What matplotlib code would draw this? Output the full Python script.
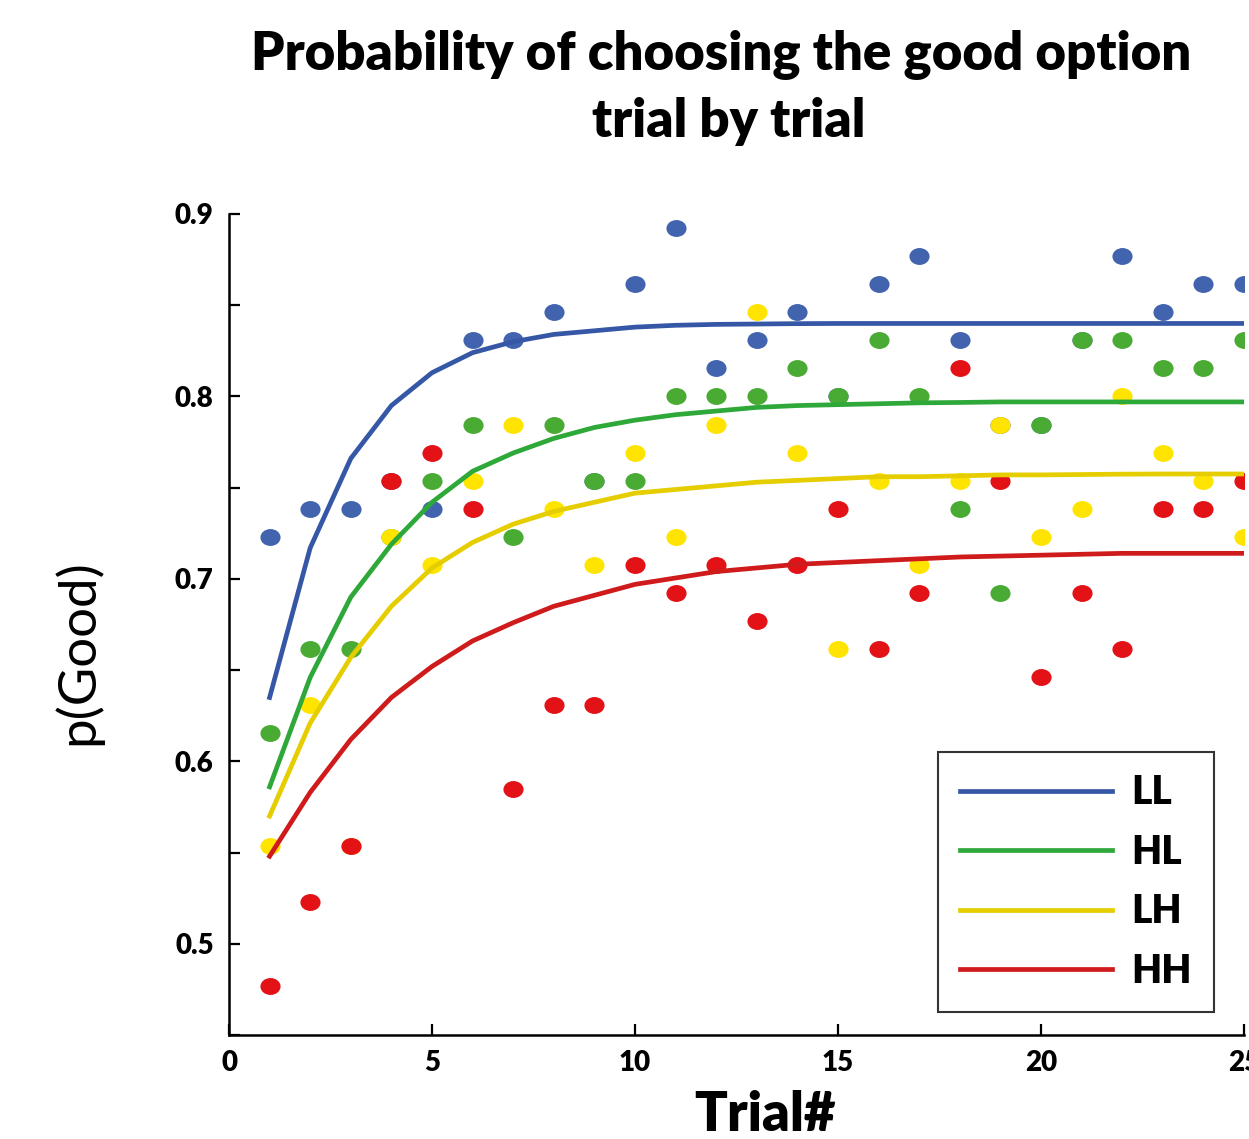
import numpy as np
import matplotlib
matplotlib.use("Agg")
import matplotlib.pyplot as plt
from matplotlib.path import Path
from matplotlib.transforms import Affine2D
from matplotlib.ticker import MultipleLocator

# trial numbers
trials = list(range(1, 26))

# observed proportions (points sit on a k/65 grid)
ll_obs = [47, 48, 48, 49, 48, 54, 54, 55, 49, 56, 58, 53, 54, 55, 52, 56, 57, 54, 51, 51, 54, 57, 55, 56, 56]
hl_obs = [40, 43, 43, 47, 49, 51, 47, 51, 49, 49, 52, 52, 52, 53, 52, 54, 52, 48, 45, 51, 54, 54, 53, 53, 54]
lh_obs = [36, 41, 36, 47, 46, 49, 51, 48, 46, 50, 47, 51, 55, 50, 43, 49, 46, 49, 51, 47, 48, 52, 50, 49, 47]
hh_obs = [31, 34, 36, 49, 50, 48, 38, 41, 41, 46, 45, 46, 44, 46, 48, 43, 45, 53, 49, 42, 45, 43, 48, 48, 49]

# fitted curves
ll_fit = [0.635, 0.717, 0.766, 0.795, 0.813, 0.824, 0.830, 0.834, 0.836, 0.838, 0.839, 0.8395, 0.8397,
          0.8399, 0.840, 0.840, 0.840, 0.840, 0.840, 0.840, 0.840, 0.840, 0.840, 0.840, 0.840]
hl_fit = [0.586, 0.646, 0.690, 0.719, 0.742, 0.759, 0.769, 0.777, 0.783, 0.787, 0.790, 0.792, 0.794,
          0.795, 0.7955, 0.796, 0.7965, 0.7967, 0.797, 0.797, 0.797, 0.797, 0.797, 0.797, 0.797]
lh_fit = [0.570, 0.621, 0.657, 0.685, 0.706, 0.720, 0.730, 0.737, 0.742, 0.747, 0.749, 0.751, 0.753,
          0.754, 0.755, 0.756, 0.756, 0.7565, 0.757, 0.757, 0.7572, 0.7574, 0.7575, 0.7575, 0.7575]
hh_fit = [0.548, 0.583, 0.612, 0.635, 0.652, 0.666, 0.676, 0.685, 0.691, 0.697, 0.7005, 0.704, 0.706,
          0.708, 0.709, 0.710, 0.711, 0.712, 0.7125, 0.713, 0.7135, 0.714, 0.714, 0.714, 0.714]

labels = ["LL", "HL", "LH", "HH"]
line_colors = ["#3557a5", "#2fa83a", "#e5cd00", "#cf1b1b"]
dot_colors = ["#4264ae", "#4aab34", "#ffe400", "#e31216"]

plt.rcParams["font.family"] = ["Lato", "DejaVu Sans"]

fig = plt.figure(figsize=(12.49, 11.39), dpi=100)
W, H = 1249, 1139
ax = fig.add_axes([229 / W, 1 - 1035 / H, (1244 - 229) / W, (1035 - 214) / H])

ellipse = Path.unit_circle().transformed(Affine2D().scale(1.0, 0.84))

obs = [ll_obs, hl_obs, lh_obs, hh_obs]
fits = [ll_fit, hl_fit, lh_fit, hh_fit]
for k, o in enumerate(obs):
    ax.plot(trials, np.array(o) / 65.0, linestyle="none", marker=ellipse, markersize=14.5,
            markerfacecolor=dot_colors[k], markeredgecolor="none", zorder=2)
for k, f in enumerate(fits):
    ax.plot(trials, f, color=line_colors[k], linewidth=3.4, label=labels[k], zorder=3)

ax.set_xlim(0, 25)
ax.set_ylim(0.45, 0.9)
ax.xaxis.set_major_locator(MultipleLocator(5))
ax.yaxis.set_major_locator(MultipleLocator(0.1))
ax.yaxis.set_minor_locator(MultipleLocator(0.05))
ax.spines["top"].set_visible(False)
ax.spines["right"].set_visible(False)
for s in ["left", "bottom"]:
    ax.spines[s].set_linewidth(1.8)
ax.tick_params(axis="y", which="major", direction="in", length=8, width=1.6, pad=11, labelsize=20)
ax.tick_params(axis="y", which="minor", direction="in", length=8, width=1.6)
ax.tick_params(axis="x", which="major", direction="in", length=8, width=1.6, pad=11, labelsize=20)
for lab in ax.get_xticklabels() + ax.get_yticklabels():
    lab.set_fontweight("heavy")

leg = ax.legend(loc="upper left", bbox_to_anchor=(938 / W, 1 - 752 / H), bbox_transform=fig.transFigure,
                prop={"size": 28, "weight": "heavy"}, frameon=True, fancybox=False,
                handlelength=3.9, handletextpad=0.5, labelspacing=0.58, borderpad=0.57,
                borderaxespad=0)
leg.get_frame().set_edgecolor("black")
leg.get_frame().set_linewidth(1.5)

fig.text(721 / W, 1 - 70 / H, "Probability of choosing the good option", ha="center", va="baseline",
         fontsize=38, fontweight="heavy")
fig.text(729 / W, 1 - 137 / H, "trial by trial", ha="center", va="baseline",
         fontsize=38, fontweight="heavy")
fig.text(77 / W, 1 - 652 / H, "p(Good)", ha="center", va="center", rotation=90, fontsize=38)
fig.text(765 / W, 1 - 1131 / H, "Trial#", ha="center", va="baseline", fontsize=39, fontweight="heavy")

fig.savefig("out.png", dpi=100)
